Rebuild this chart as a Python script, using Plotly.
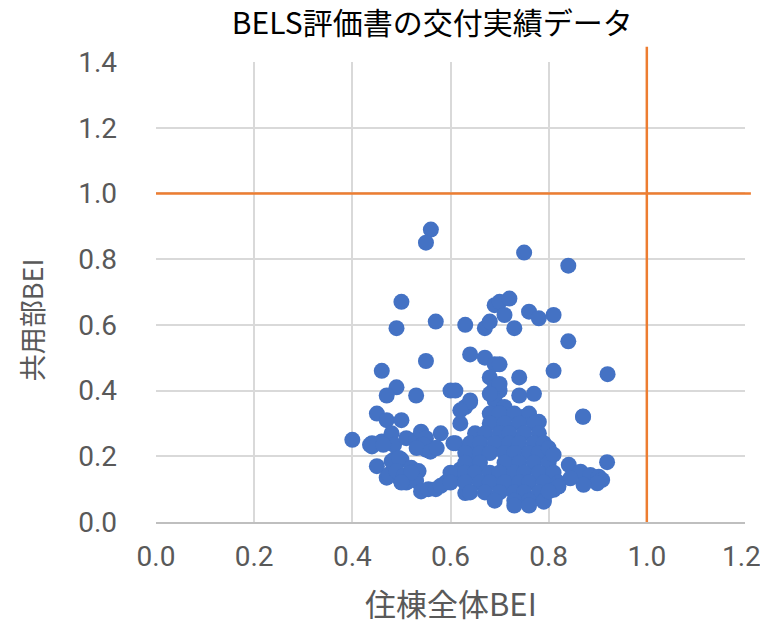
import plotly.graph_objects as go

title_text = "BELS評価書の交付実績データ"
x_title = "住棟全体BEI"
y_title = "共用部BEI"

x_ticks = [0.0, 0.2, 0.4, 0.6, 0.8, 1.0, 1.2]
y_ticks = [0.0, 0.2, 0.4, 0.6, 0.8, 1.0, 1.2, 1.4]
x_tick_labels = ["0.0", "0.2", "0.4", "0.6", "0.8", "1.0", "1.2"]
y_tick_labels = ["0.0", "0.2", "0.4", "0.6", "0.8", "1.0", "1.2", "1.4"]

threshold_x = 1.0
threshold_y = 1.0

# sparse upper points
bei_total_upper = [0.56, 0.55, 0.75, 0.84, 0.50, 0.69, 0.70, 0.72, 0.76, 0.78, 0.81, 0.71,
                   0.49, 0.57, 0.63, 0.67, 0.68, 0.73, 0.84, 0.55, 0.64, 0.67, 0.69, 0.70,
                   0.46, 0.81, 0.92, 0.68, 0.74, 0.49, 0.47, 0.53, 0.60, 0.61, 0.64, 0.69,
                   0.70, 0.74, 0.77, 0.70, 0.87, 0.69, 0.71, 0.68, 0.75, 0.78, 0.70]
bei_common_upper = [0.89, 0.85, 0.82, 0.78, 0.67, 0.66, 0.67, 0.68, 0.64, 0.62, 0.63, 0.63,
                    0.59, 0.61, 0.60, 0.59, 0.61, 0.59, 0.55, 0.49, 0.51, 0.50, 0.48, 0.48,
                    0.46, 0.46, 0.45, 0.44, 0.44, 0.41, 0.385, 0.385, 0.40, 0.40, 0.37, 0.41,
                    0.40, 0.385, 0.39, 0.42, 0.32, 0.37, 0.35, 0.39, 0.32, 0.305, 0.33]

# left / middle cluster
bei_total_left = [0.45, 0.47, 0.50, 0.63, 0.64, 0.62, 0.62, 0.40, 0.44, 0.44, 0.46, 0.48,
                  0.485, 0.51, 0.53, 0.54, 0.55, 0.58, 0.55, 0.57, 0.545, 0.61, 0.64,
                  0.45, 0.485, 0.50, 0.47, 0.495, 0.52, 0.535, 0.51, 0.53, 0.54, 0.555,
                  0.57, 0.59, 0.61, 0.63, 0.62, 0.64, 0.65, 0.475, 0.48, 0.495, 0.49,
                  0.505, 0.52, 0.50, 0.436, 0.463, 0.531, 0.559, 0.572, 0.58, 0.606]
bei_common_left = [0.33, 0.31, 0.31, 0.35, 0.365, 0.30, 0.34, 0.25, 0.24, 0.23, 0.245, 0.27,
                   0.235, 0.255, 0.25, 0.275, 0.255, 0.27, 0.22, 0.225, 0.235, 0.24, 0.23,
                   0.17, 0.19, 0.19, 0.135, 0.135, 0.165, 0.155, 0.12, 0.125, 0.093, 0.10,
                   0.10, 0.12, 0.133, 0.088, 0.16, 0.18, 0.19, 0.145, 0.185, 0.195, 0.155,
                   0.14, 0.15, 0.12, 0.235, 0.235, 0.225, 0.214, 0.225, 0.11, 0.24]

# dense central cluster
bei_total_core = [0.68, 0.70, 0.73, 0.76,
                  0.68, 0.71, 0.74, 0.77,
                  0.65, 0.67, 0.70, 0.72, 0.75, 0.78,
                  0.64, 0.66, 0.69, 0.72, 0.74, 0.77, 0.79,
                  0.63, 0.66, 0.68, 0.71, 0.73, 0.76, 0.78,
                  0.63, 0.66, 0.71, 0.74, 0.77, 0.80,
                  0.60, 0.63, 0.65, 0.68, 0.70, 0.73, 0.75, 0.78, 0.81,
                  0.60, 0.63, 0.66, 0.68, 0.71, 0.74, 0.76, 0.79, 0.82,
                  0.64, 0.67, 0.70, 0.73, 0.75, 0.78,
                  0.69, 0.73, 0.76, 0.79, 0.73, 0.76]
bei_common_core = [0.33, 0.33, 0.33, 0.33,
                   0.30, 0.30, 0.30, 0.30,
                   0.27, 0.27, 0.27, 0.27, 0.27, 0.27,
                   0.24, 0.24, 0.24, 0.24, 0.24, 0.24, 0.24,
                   0.21, 0.21, 0.21, 0.21, 0.21, 0.21, 0.21,
                   0.18, 0.18, 0.18, 0.18, 0.18, 0.18,
                   0.15, 0.15, 0.15, 0.15, 0.15, 0.15, 0.15, 0.15, 0.15,
                   0.12, 0.12, 0.12, 0.12, 0.12, 0.12, 0.12, 0.12, 0.12,
                   0.09, 0.09, 0.09, 0.09, 0.09, 0.09,
                   0.065, 0.065, 0.065, 0.065, 0.05, 0.05]

# right tail
bei_total_right = [0.80, 0.81, 0.841, 0.865, 0.885, 0.902, 0.909, 0.899, 0.871, 0.844,
                   0.81, 0.82, 0.79, 0.919, 0.87, 0.80]
bei_common_right = [0.225, 0.205, 0.174, 0.153, 0.143, 0.138, 0.128, 0.118, 0.113, 0.133,
                    0.098, 0.108, 0.062, 0.182, 0.321, 0.093]

bei_total = bei_total_upper + bei_total_left + bei_total_core + bei_total_right
bei_common = bei_common_upper + bei_common_left + bei_common_core + bei_common_right

blue = "#4472C4"
orange = "#ED7D31"
grid = "#D9D9D9"
tick_col = "#595959"
tick_font = "Roboto, sans-serif"

fig = go.Figure()
fig.add_trace(go.Scatter(
    x=bei_total, y=bei_common, mode="markers",
    marker=dict(color=blue, size=16, line=dict(width=0)),
    showlegend=False, hoverinfo="skip",
))

fig.add_shape(type="line", xref="x", yref="paper", x0=threshold_x, x1=threshold_x,
              y0=0, y1=1.033, line=dict(color=orange, width=2.5), layer="above")
fig.add_shape(type="line", xref="paper", yref="y", x0=0, x1=1.01,
              y0=threshold_y, y1=threshold_y, line=dict(color=orange, width=2.5), layer="above")

# last x tick label drawn as an annotation nudged left so it stays inside the frame
x_axis_labels = x_tick_labels[:-1] + [""]
fig.add_annotation(text=x_tick_labels[-1], xref="x", yref="paper", x=x_ticks[-1], y=-0.074,
                   xanchor="center", yanchor="middle", xshift=-4, showarrow=False,
                   font=dict(size=28, family=tick_font, color=tick_col))

fig.add_annotation(text=x_title, xref="paper", yref="paper", x=0.501, y=-0.176,
                   xanchor="center", yanchor="middle", showarrow=False,
                   font=dict(size=31, color=tick_col, family="Noto Sans CJK JP"))
fig.add_annotation(text=y_title, xref="paper", yref="paper", x=-0.212, y=0.439,
                   xanchor="center", yanchor="middle", showarrow=False, textangle=-90,
                   font=dict(size=27, color=tick_col, family="Noto Sans CJK JP"))

fig.update_layout(
    width=760, height=625,
    margin=dict(l=156, r=15, t=62, b=103, autoexpand=False),
    paper_bgcolor="white", plot_bgcolor="white",
    hovermode=False,
    font=dict(family="Noto Sans CJK JP", color=tick_col),
    title=dict(text=title_text, x=0.469, xref="paper", xanchor="center",
               y=0.9632, yref="container", yanchor="middle",
               font=dict(size=30, color="black", family="Noto Sans CJK JP")),
    xaxis=dict(range=[0, 1.2], tickvals=x_ticks, ticktext=x_axis_labels,
               showgrid=True, gridcolor=grid, gridwidth=2, zeroline=False,
               showline=True, linecolor="#BFBFBF", linewidth=2,
               ticks="", ticklabelstandoff=8, ticklabeloverflow="allow",
               tickfont=dict(size=28, family=tick_font, color=tick_col),
               fixedrange=True),
    yaxis=dict(range=[0, 1.4], tickvals=y_ticks, ticktext=y_tick_labels,
               showgrid=True, gridcolor=grid, gridwidth=2, zeroline=False,
               showline=False,
               ticks="", ticklabelstandoff=38, ticklabeloverflow="allow",
               tickfont=dict(size=28, family=tick_font, color=tick_col),
               fixedrange=True),
)

fig.write_html("out.html", config={"displayModeBar": False, "staticPlot": True},
               post_script="document.body.style.margin='0px';document.body.style.overflow='hidden';")
